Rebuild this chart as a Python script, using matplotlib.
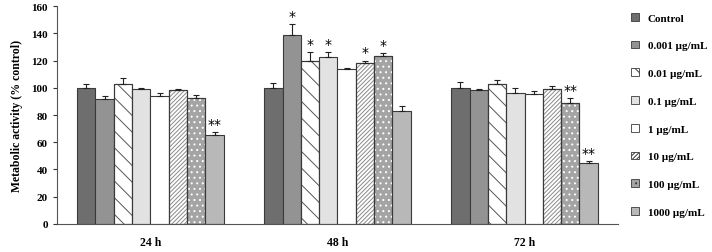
import matplotlib
matplotlib.use('Agg')
import matplotlib.pyplot as plt
import numpy as np
from matplotlib.patches import Patch

plt.rcParams['font.family'] = ['Liberation Serif', 'DejaVu Serif']
plt.rcParams['font.weight'] = 'bold'
plt.rcParams['hatch.linewidth'] = 0.7

times = ['24 h', '48 h', '72 h']
doses = ['Control', '0.001 \u00b5g/mL', '0.01 \u00b5g/mL', '0.1 \u00b5g/mL',
         '1 \u00b5g/mL', '10 \u00b5g/mL', '100 \u00b5g/mL', '1000 \u00b5g/mL']

# rows = dose, cols = time point
values = [
    [100, 100, 100],
    [92, 139, 98],
    [103, 119.5, 103],
    [99, 122.5, 96.5],
    [94, 113.5, 95.5],
    [98, 118, 99],
    [92.5, 123.5, 89],
    [65, 83, 45],
]
errors = [
    [3, 3.5, 4.5],
    [2, 7.5, 1],
    [4, 6.5, 2.7],
    [0.5, 3.7, 3],
    [2, 1, 2],
    [1, 2, 2],
    [2, 2, 3.4],
    [2.5, 3.4, 1.2],
]
# significance marks (dose index, time index, label)
marks = [(7, 0, '**'),
         (1, 1, '*'), (2, 1, '*'), (3, 1, '*'), (5, 1, '*'), (6, 1, '*'),
         (6, 2, '**'), (7, 2, '**')]

faces = ['#6e6e6e', '#939393', 'white', '#e2e2e2', 'white', 'white', '#a4a4a4', '#b8b8b8']
hatches = [None, None, '\\\\', None, None, '////////', '...', None]
hatch_cols = [None, None, '#555555', None, None, '#8a8a8a', 'white', None]
edge = '#3a3a3a'

fig = plt.figure(figsize=(7.12, 2.53), dpi=100)
ax = fig.add_axes([0.080, 0.111, 0.788, 0.861])

x = np.arange(len(times))
w = 0.098
for i, d in enumerate(doses):
    pos = x + (i - 3.5) * w
    v = np.array(values[i])
    e = np.array(errors[i])
    ax.bar(pos, v, w, color=faces[i], edgecolor=edge, linewidth=0.8, zorder=2)
    if hatches[i]:
        ax.bar(pos, v, w, color='none', edgecolor=hatch_cols[i], hatch=hatches[i],
               linewidth=0, zorder=3)
        ax.bar(pos, v, w, color='none', edgecolor=edge, linewidth=0.8, zorder=4)
    ax.errorbar(pos, v, yerr=[np.zeros_like(e), e], fmt='none', ecolor='#222222',
                elinewidth=0.8, capsize=2.5, capthick=0.8, zorder=5)

for i, t, lab in marks:
    pos = x[t] + (i - 3.5) * w
    top = values[i][t] + errors[i][t]
    ax.text(pos, top + 1, lab, ha='center', va='bottom', fontsize=10,
            fontweight='normal', family='DejaVu Sans')

ax.set_xlim(-0.5, 2.5)
ax.set_ylim(0, 160)
ax.set_yticks(np.arange(0, 161, 20))
ax.set_xticks(x)
ax.set_xticklabels(times, fontsize=8.5, fontweight='bold')
ax.tick_params(axis='x', length=0, pad=9)
ax.tick_params(axis='y', labelsize=8, length=3, width=0.8, colors='#333333')
for lab in ax.get_yticklabels():
    lab.set_color('black')
ax.spines['top'].set_visible(False)
ax.spines['right'].set_visible(False)
ax.spines['left'].set_color('#555555')
ax.spines['bottom'].set_color('#555555')
ax.set_ylabel('Metabolic activity (% control)', fontsize=8.5, fontweight='bold', labelpad=6)

handles = []
for i, d in enumerate(doses):
    handles.append(Patch(facecolor=faces[i], edgecolor=edge, linewidth=0.6,
                         hatch=hatches[i]))
fig.legend(handles, doses, loc='upper left', bbox_to_anchor=(0.872, 0.985),
           frameon=False, handlelength=0.7, handleheight=0.7,
           handletextpad=0.8, labelspacing=1.62, prop={'weight': 'bold', 'size': 8})

fig.savefig('out.png', dpi=100)
